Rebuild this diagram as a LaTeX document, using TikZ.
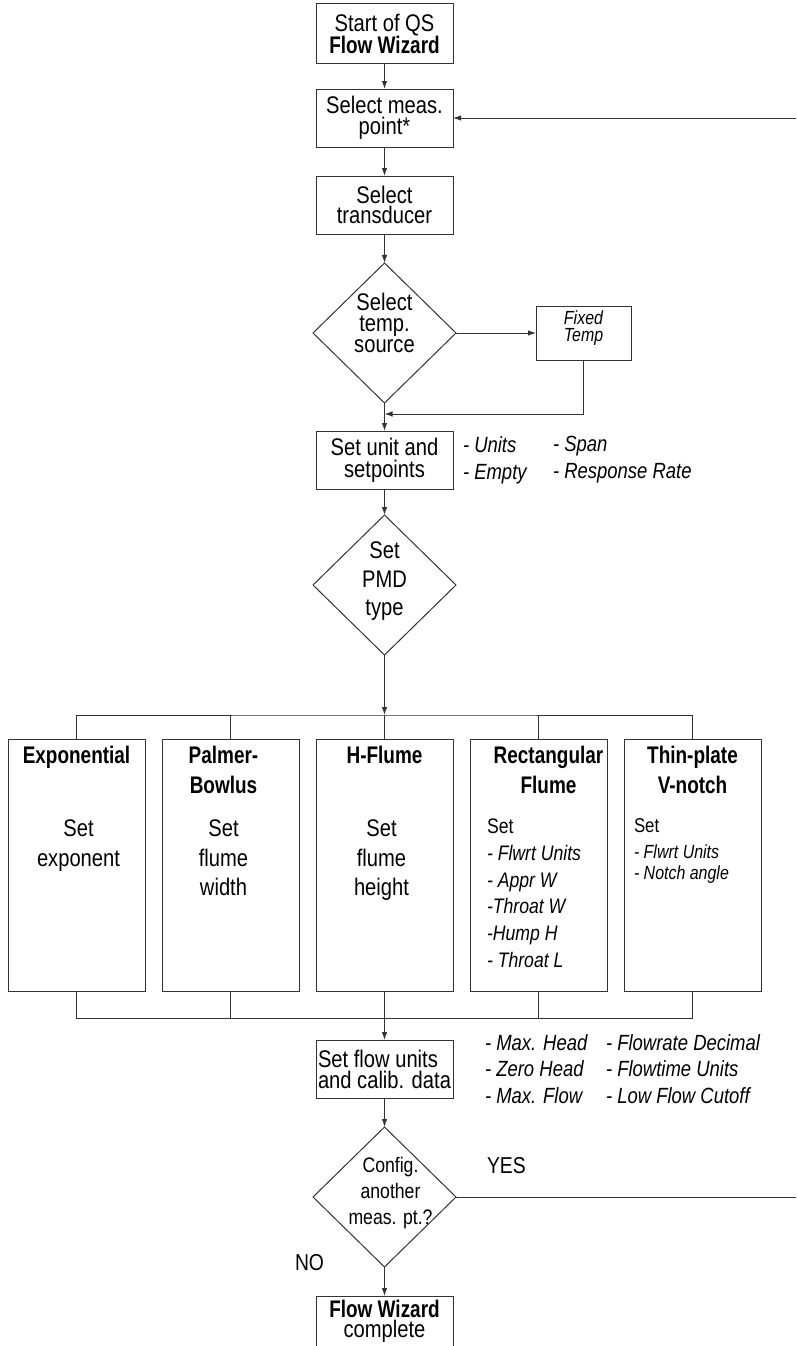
\documentclass[tikz,border=0pt]{standalone}
\usepackage{fontspec}
\setmainfont{Liberation Sans}[
  UprightFeatures={FakeStretch=0.84},
  ItalicFeatures={FakeStretch=0.84},
  BoldFeatures={FakeStretch=0.79}]
\usetikzlibrary{arrows.meta, positioning, shapes.geometric}
\lineskiplimit=-100pt
\newcommand{\fsz}[2]{\fontsize{#1}{#2}\selectfont}

\begin{document}
\begin{tikzpicture}[x=1pt, y=-1pt, line width=1pt, >={Latex[length=8pt, width=5.5pt]},
    every node/.style={align=center, inner sep=0pt, outer sep=0pt, font=\fsz{24}{22}},
    box/.style={draw=black!80, rectangle, minimum width=137pt, minimum height=58pt},
    choice/.style={draw=black!80, diamond, minimum width=143pt, minimum height=140pt},
    pmdbox/.style={draw=black!80, rectangle, minimum width=137pt, minimum height=252pt},
    title/.style={anchor=north, font=\fsz{24}{30}\bfseries},
    body/.style={anchor=north, font=\fsz{24}{29.5}},
    list/.style={anchor=west, align=left, font=\fsz{22}{27}\itshape},
    wire/.style={draw=black!80}]
        \useasboundingbox (0,0) rectangle (796,1346);
        \clip (0,0) rectangle (796,1346);

        \node (start) [box, minimum height=60pt] at (384.5,34) {Start of QS\\\textbf{Flow Wizard}};
        \node (meas) [box, font=\fsz{24}{20.5}, below=25pt of start] {Select meas.\\point*};
        \node (trans) [box, font=\fsz{24}{20.5}, below=29pt of meas] {Select\\transducer};
        \node (temp) [choice, below=29pt of trans] {};
        \node (tempT) [font=\fsz{24}{21}] at ([yshift=10pt]temp.center) {Select\\temp.\\source};
        \node (fixed) [box, minimum width=95pt, minimum height=54pt, right=80pt of temp] {};
        \node (fixedT) [font=\fsz{19}{17}\itshape] at ([yshift=5pt]fixed.center) {Fixed\\Temp};
        \coordinate (join) at ([yshift=-11pt]temp.south);
        \node (setunit) [box, below=28pt of temp] {Set unit and\\setpoints};
        \node (unitL) [list] at ([xshift=10pt]setunit.east) {- Units\\- Empty};
        \node (unitR) [list] at ([xshift=100pt]setunit.east) {- Span\\- Response Rate};
        \node (pmd) [choice, below=26pt of setunit] {};
        \node (pmdT) [font=\fsz{24}{28.5}] at ([yshift=3.5pt]pmd.center) {Set\\PMD\\type};

        \node (hfl) [pmdbox, below=84pt of pmd] {};
        \node (pal) [pmdbox, left=17pt of hfl] {};
        \node (exp) [pmdbox, left=17pt of pal] {};
        \node (rec) [pmdbox, right=17pt of hfl] {};
        \node (thin) [pmdbox, right=17pt of rec] {};
        \node (expT) [title] at ([yshift=-7pt]exp.north) {Exponential};
        \node (palT) [title] at ([xshift=-7pt,yshift=-7pt]pal.north) {Palmer-\\Bowlus};
        \node (hflT) [title] at ([yshift=-7pt]hfl.north) {H-Flume};
        \node (recT) [title] at ([xshift=10pt,yshift=-7pt]rec.north) {Rectangular\\Flume};
        \node (thinT) [title] at ([yshift=-7pt]thin.north) {Thin-plate\\V-notch};
        \node (expB) [body] at ([xshift=2pt,yshift=-81pt]exp.north) {Set\\exponent};
        \node (palB) [body] at ([xshift=-7pt,yshift=-81pt]pal.north) {Set\\flume\\width};
        \node (hflB) [body] at ([xshift=-3pt,yshift=-81pt]hfl.north) {Set\\flume\\height};
        \node (recB) [anchor=north west, align=left, font=\fsz{21}{26.7}] at ([xshift=17pt,yshift=-80pt]rec.north west) {Set\\\textit{- Flwrt Units}\\\textit{- Appr W}\\\textit{-Throat W}\\\textit{-Hump H}\\\textit{- Throat L}};
        \node (thinB) [anchor=north west, align=left, font=\fsz{19}{21}] at ([xshift=10pt,yshift=-80pt]thin.north west) {{\fsz{20}{21}Set}\\[5pt]\textit{- Flwrt Units}\\\textit{- Notch angle}};
        \coordinate (fork) at ([yshift=24pt]hfl.north);
        \coordinate (merge) at ([yshift=-27pt]hfl.south);

        \node (flow) [box, align=left, font=\fsz{24}{21}, below=49pt of hfl] {Set flow units\\and calib. data};
        \node (flowL) [list, font=\fsz{22}{26.5}\itshape] at ([xshift=32pt]flow.east) {- Max. Head\\- Zero Head\\- Max. Flow};
        \node (flowR) [list, font=\fsz{22}{26.5}\itshape] at ([xshift=153pt]flow.east) {- Flowrate Decimal\\- Flowtime Units\\- Low Flow Cutoff};
        \node (cfg) [choice, below=29pt of flow] {};
        \node (cfgT) [font=\fsz{21}{26}] at ([xshift=6pt,yshift=4pt]cfg.center) {Config.\\another\\meas. pt.?};
        \node (yes) [anchor=west, font=\fsz{23}{23}] at ([xshift=31pt,yshift=31pt]cfg.east) {YES};
        \node (no) [anchor=west, font=\fsz{23}{23}] at ([xshift=-89.5pt,yshift=4pt]cfg.south) {NO};
        \node (done) [box, minimum height=56pt, below=29pt of cfg] {};
        \node (doneT) [anchor=north, font=\fsz{24}{20}] at ([yshift=-4pt]done.north) {\textbf{Flow Wizard}\\complete};
        \coordinate (rim) at (840,0);

        \draw[wire, ->] (start) -- (meas);
        \draw[wire, ->] (meas) -- (trans);
        \draw[wire, ->] (trans) -- (temp);
        \draw[wire, ->] (temp) -- (fixed);
        \draw[wire, ->] (fixed.south) |- (join);
        \draw[wire, ->] (temp) -- (setunit);
        \draw[wire, ->] (setunit) -- (pmd);
        \draw[wire, ->] (pmd.south) -- (fork);
        \draw[wire] (exp.north) |- (fork) -| (thin.north);
        \draw[wire] (pal.north) -- (pal.north |- fork);
        \draw[wire] (hfl.north) -- (fork);
        \draw[wire] (rec.north) -- (rec.north |- fork);
        \draw[wire] (exp.south) |- (merge) -| (thin.south);
        \draw[wire] (pal.south) -- (pal.south |- merge);
        \draw[wire] (rec.south) -- (rec.south |- merge);
        \draw[wire, ->] (hfl.south) -- (flow.north);
        \draw[wire, ->] (flow) -- (cfg);
        \draw[wire, ->] (cfg) -- (done);
        \draw[wire, ->] (cfg.east) -- (cfg.east -| rim) |- (meas.east);
    \end{tikzpicture}
\end{document}
